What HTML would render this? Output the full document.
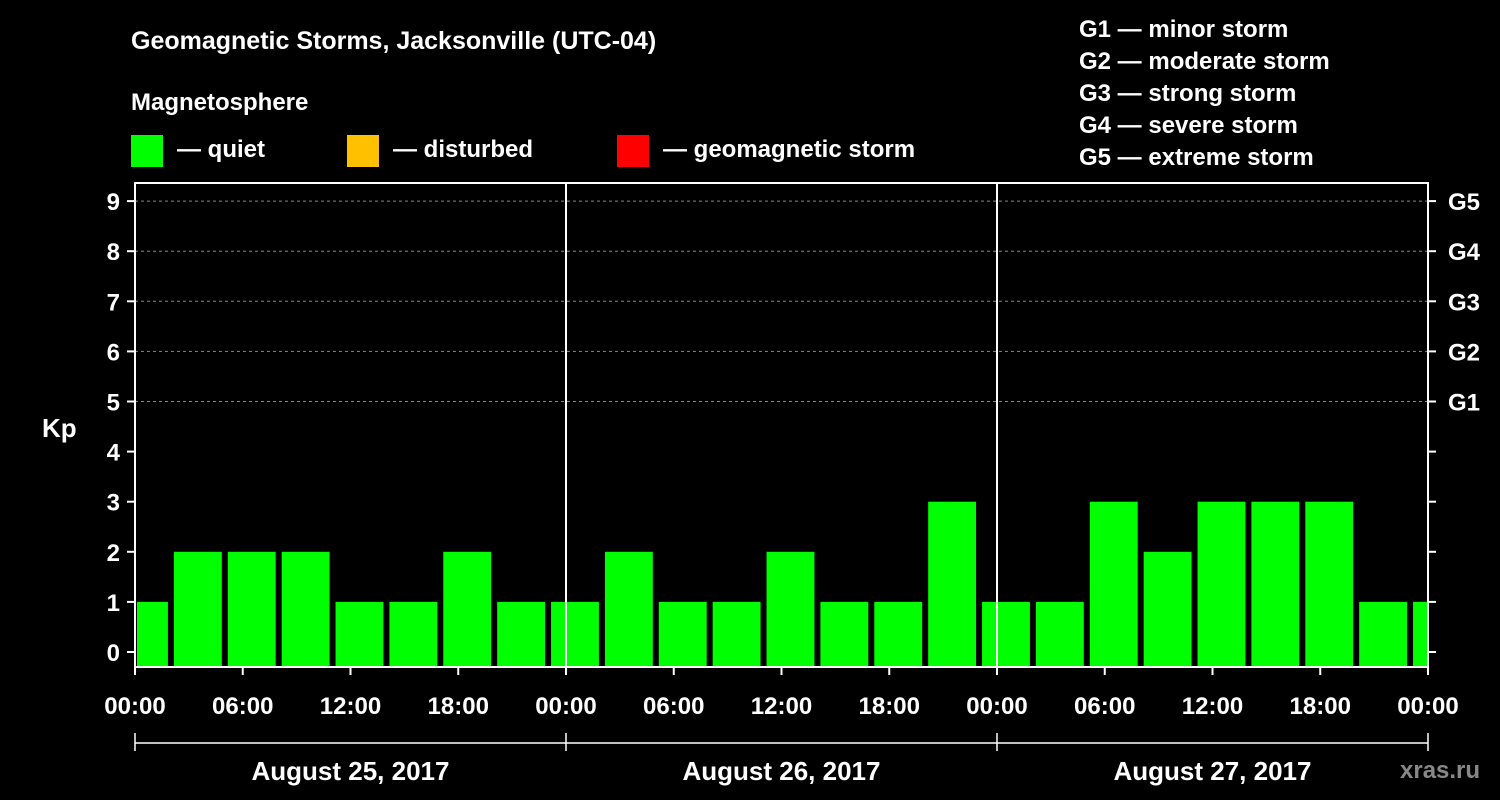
<!DOCTYPE html>
<html><head><meta charset="utf-8"><style>
html,body{margin:0;padding:0;background:#000;}
svg{display:block;font-family:"Liberation Sans",Arial,sans-serif;font-weight:bold;}
</style></head><body>
<svg id="chart" width="1500" height="800" viewBox="0 0 1500 800">
<rect x="0" y="0" width="1500" height="800" fill="#000"/>
<text x="131" y="49" fill="#fff" font-size="25">Geomagnetic Storms, Jacksonville (UTC-04)</text>
<text x="131" y="110" fill="#fff" font-size="24">Magnetosphere</text>
<g><rect x="131" y="135" width="32" height="32" fill="#00ff00"/><text x="177" y="157" fill="#fff" font-size="24">— quiet</text></g>
<g><rect x="347" y="135" width="32" height="32" fill="#ffc000"/><text x="393" y="157" fill="#fff" font-size="24">— disturbed</text></g>
<g><rect x="617" y="135" width="32" height="32" fill="#ff0000"/><text x="663" y="157" fill="#fff" font-size="24">— geomagnetic storm</text></g>
<g fill="#fff" font-size="24">
<text x="1079" y="37">G1 — minor storm</text>
<text x="1079" y="69">G2 — moderate storm</text>
<text x="1079" y="101">G3 — strong storm</text>
<text x="1079" y="133">G4 — severe storm</text>
<text x="1079" y="165">G5 — extreme storm</text>
</g>
<text x="42" y="437" fill="#fff" font-size="26">Kp</text>
<text x="1400" y="778" fill="#888" font-size="24">xras.ru</text>
<g id="grid"></g><g id="bars"></g><g id="axes"></g>
</svg>
<script>
const kpValues=[1,2,2,2,1,1,2,1,1,2,1,1,2,1,1,3,1,1,3,2,3,3,3,1,1];
const barStartHours=[-1,2,5,8,11,14,17,20,23,26,29,32,35,38,41,44,47,50,53,56,59,62,65,68,71];
const yTicks=[0,1,2,3,4,5,6,7,8,9];
const gLabels=["G1","G2","G3","G4","G5"];
const xTickLabels=["00:00","06:00","12:00","18:00","00:00","06:00","12:00","18:00","00:00","06:00","12:00","18:00","00:00"];
const dayLabels=["August 25, 2017","August 26, 2017","August 27, 2017"];
const NS="http://www.w3.org/2000/svg";
const L=135,R=1428,T=183,B=667;
const x=h=>L+(h/72)*(R-L);
const y=v=>652-v*50.1;
function mk(parent,tag,attrs){const e=document.createElementNS(NS,tag);for(const k in attrs)e.setAttribute(k,attrs[k]);document.getElementById(parent).appendChild(e);return e;}
yTicks.forEach(v=>{if(v>=5){const g=mk('grid','line',{x1:L,x2:R,y1:y(v),y2:y(v),stroke:'#888','stroke-dasharray':'3,3','stroke-width':1});

}});
kpValues.forEach((v,i)=>{let x0=x(barStartHours[i])+3,x1=x(barStartHours[i]+3)-3;x0=Math.max(x0,L+2);x1=Math.min(x1,R);
const c=v>=5?'#ff0000':(v>=4?'#ffc000':'#00ff00');
const r=mk('bars','rect',{x:x0,y:y(v),width:x1-x0,height:B-y(v),fill:c});

});
mk('axes','rect',{x:L,y:T,width:R-L,height:B-T,fill:'none',stroke:'#fff','stroke-width':2});
[1,2].forEach(d=>{const s=mk('axes','line',{x1:x(d*24),x2:x(d*24),y1:T,y2:B,stroke:'#fff','stroke-width':2});

});
yTicks.forEach(v=>{mk('axes','line',{x1:L-8,x2:L,y1:y(v),y2:y(v),stroke:'#fff','stroke-width':2});
mk('axes','line',{x1:R,x2:R+8,y1:y(v),y2:y(v),stroke:'#fff','stroke-width':2});
const t=mk('axes','text',{x:L-15,y:y(v)+9,fill:'#fff','font-size':24,'text-anchor':'end'});t.textContent=v;

});
gLabels.forEach((g,i)=>{const t=mk('axes','text',{x:R+20,y:y(i+5)+9,fill:'#fff','font-size':24});t.textContent=g;

});
xTickLabels.forEach((s,i)=>{const h=i*6;mk('axes','line',{x1:x(h),x2:x(h),y1:B,y2:B+8,stroke:'#fff','stroke-width':2});
const t=mk('axes','text',{x:x(h),y:714,fill:'#fff','font-size':24,'text-anchor':'middle'});t.textContent=s;

});
mk('axes','line',{x1:L,x2:R,y1:743,y2:743,stroke:'#fff','stroke-width':1.5});
[0,1,2,3].forEach(d=>mk('axes','line',{x1:x(d*24),x2:x(d*24),y1:733,y2:751,stroke:'#fff','stroke-width':1.5}));
dayLabels.forEach((s,i)=>{const t=mk('axes','text',{x:x(i*24+12),y:780,fill:'#fff','font-size':26,'text-anchor':'middle'});t.textContent=s;

});
</script>
</body></html>
